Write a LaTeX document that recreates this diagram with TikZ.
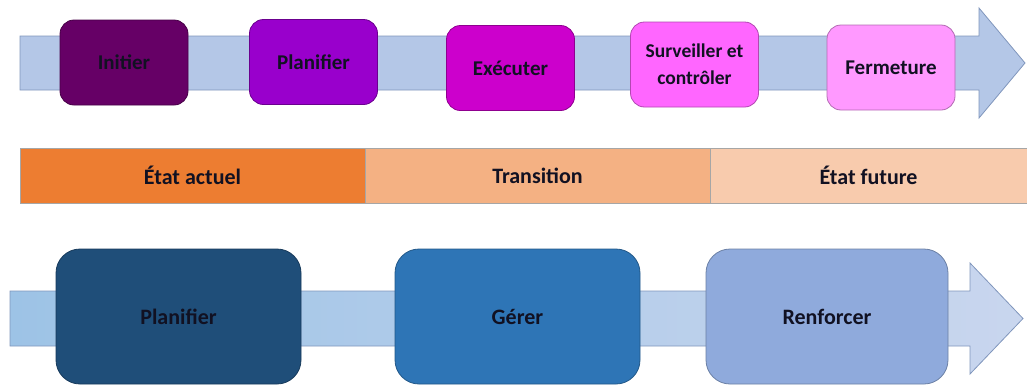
\documentclass[tikz,border=0pt]{standalone}
\usepackage{fontspec}
\setmainfont{Carlito}
\definecolor{shaftA}{HTML}{B4C7E7}
\definecolor{shaftLine}{HTML}{8096BC}
\definecolor{cInit}{HTML}{660066}
\definecolor{cPlan}{HTML}{9900CC}
\definecolor{cExec}{HTML}{CC00CC}
\definecolor{cSurv}{HTML}{FF66FF}
\definecolor{cFerm}{HTML}{FF99FF}
\definecolor{oA}{HTML}{ED7D31}
\definecolor{oB}{HTML}{F4B183}
\definecolor{oC}{HTML}{F8CBAD}
\definecolor{bA}{HTML}{1F4E79}
\definecolor{bB}{HTML}{2E75B6}
\definecolor{bC}{HTML}{8FAADC}
\definecolor{bL}{HTML}{9DC3E6}
\definecolor{bR}{HTML}{C9D6EE}
\definecolor{txt}{HTML}{111122}
\tikzset{
  topbox/.style={draw=#1!70!black, line width=0.8pt, fill=#1, rounded corners=14pt,
    minimum width=128pt, minimum height=85pt, inner sep=2pt, align=center,
    text=txt, font=\fontsize{21}{24}\selectfont\bfseries},
  botbox/.style={draw=#1!75!black, line width=0.8pt, fill=#1, rounded corners=24pt,
    minimum width=245pt, minimum height=135pt, inner sep=2pt, align=center,
    text=txt, font=\fontsize{22}{26}\selectfont\bfseries},
  barcell/.style={draw=gray!70, line width=0.8pt, fill=#1, minimum height=55pt,
    inner sep=0pt, text=txt, font=\fontsize{22}{26}\selectfont\bfseries},
}
\begin{document}
\begin{tikzpicture}[x=1pt,y=-1pt]
\useasboundingbox (0,0) rectangle (1027,386);
% top arrow
\draw[shaftLine, line width=0.8pt, fill=shaftA, line join=miter]
  (20,36) -- (979,36) -- (979,8) -- (1025,63) -- (979,118) -- (979,90) -- (20,90) -- cycle;
% top boxes
\node[topbox=cInit] (initier) at (124,62.5) {Initier};
\node[topbox=cPlan] (planifier1) at (313.5,62) {Planifier};
\node[topbox=cExec] (executer) at (510.5,68) {Exécuter};
\node[topbox=cSurv, font=\fontsize{19.5}{27}\selectfont\bfseries] (surveiller) at (694.5,64.5) {Surveiller et\\contrôler};
\node[topbox=cFerm] (fermeture) at (891,67.5) {Fermeture};
% middle bar
\node[barcell=oA, minimum width=345pt] (actuel) at (192.5,175.5) {État actuel};
\node[barcell=oB, minimum width=345pt] (transition) at (537.5,175.5) {Transition};
\node[barcell=oC, minimum width=317pt] (future) at (868.5,175.5) {État future};
% bottom arrow
\shade[left color=bL, right color=bR]
  (10,291) -- (970,291) -- (970,263) -- (1023,318.5) -- (970,374) -- (970,346) -- (10,346) -- cycle;
\draw[shaftLine, line width=0.8pt, line join=miter]
  (10,291) -- (970,291) -- (970,263) -- (1023,318.5) -- (970,374) -- (970,346) -- (10,346) -- cycle;
% bottom boxes
\node[botbox=bA] (planifier2) at (178.5,316.5) {Planifier};
\node[botbox=bB] (gerer) at (517.5,316.5) {Gérer};
\node[botbox=bC, minimum width=242pt] (renforcer) at (827,316.5) {Renforcer};
\end{tikzpicture}
\end{document}
